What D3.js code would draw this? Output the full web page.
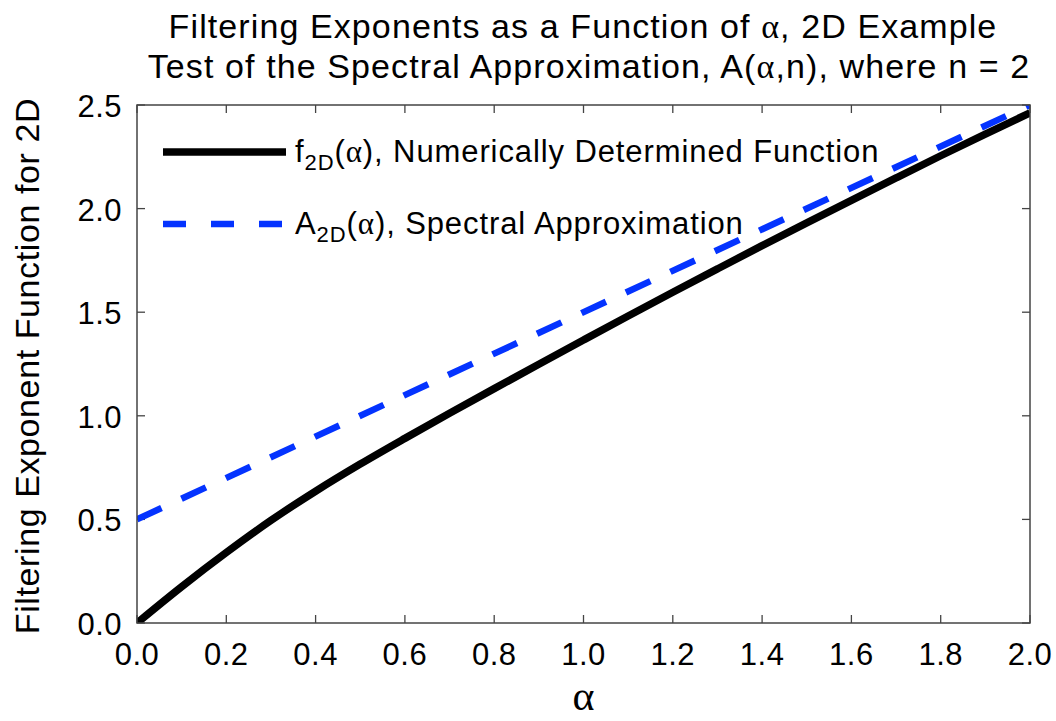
<!DOCTYPE html>
<html lang="en">
  <head>
    <meta charset="UTF-8" />
    <title>Filtering Exponents as a Function of alpha</title>
    <script src="https://d3js.org/d3.v7.min.js"></script>
    <style>
      body {
        margin: 0;
        background: #fff;
      }
      svg text {
        font-family: "Liberation Sans", Arial, Helvetica, sans-serif;
        fill: #000;
      }
      .greek {
        font-family: "Liberation Serif", "DejaVu Serif", serif;
      }
    </style>
  </head>
  <body>
    <div id="chart"></div>
    <script>
      // data
      const alphaNum = [0, 0.1, 0.2, 0.3, 0.4, 0.5, 0.6, 0.7, 0.8, 0.9, 1.0,
        1.1, 1.2, 1.3, 1.4, 1.5, 1.6, 1.7, 1.8, 1.9, 2.0];
      const fNum = [0, 0.175, 0.34, 0.495, 0.636, 0.767, 0.891, 1.012, 1.131, 1.249, 1.366,
        1.482, 1.596, 1.709, 1.821, 1.931, 2.04, 2.148, 2.255, 2.36, 2.462];
      const alphaApprox = [0, 2.0];
      const aApprox = [0.5, 2.5];
      const xTicks = [0, 0.2, 0.4, 0.6, 0.8, 1.0, 1.2, 1.4, 1.6, 1.8, 2.0];
      const yTicks = [0, 0.5, 1.0, 1.5, 2.0, 2.5];

      const W = 1056, H = 721;
      const margin = { top: 105, right: 26, bottom: 98, left: 137 };
      const width = W - margin.left - margin.right,
        height = H - margin.top - margin.bottom;

      const svg = d3.select("#chart").append("svg")
        .attr("width", W).attr("height", H);

      const g = svg.append("g")
        .attr("transform", `translate(${margin.left},${margin.top})`);

      const x = d3.scaleLinear().domain([0, 2]).range([0, width]);
      const y = d3.scaleLinear().domain([0, 2.5]).range([height, 0]);

      // title
      const title = svg.append("text")
        .attr("text-anchor", "middle")
        .attr("font-size", 34)
        .attr("letter-spacing", 1.1);
      const t1 = title.append("tspan").attr("x", 583).attr("y", 38);
      t1.append("tspan").text("Filtering Exponents as a Function of ");
      t1.append("tspan").attr("class", "greek").text("α");
      t1.append("tspan").text(", 2D Example");
      const t2 = title.append("tspan").attr("x", 589).attr("y", 78);
      t2.append("tspan").text("Test of the Spectral Approximation, A(");
      t2.append("tspan").attr("class", "greek").text("α");
      t2.append("tspan").text(",n), where n = 2");

      // clip for the curves
      g.append("clipPath").attr("id", "plotClip")
        .append("rect").attr("width", width).attr("height", height);

      // ticks, inward on all four sides
      const tickLen = 8;
      const axisColor = "#444";
      g.selectAll(".xtick-b").data(xTicks).join("line")
        .attr("x1", d => x(d)).attr("x2", d => x(d))
        .attr("y1", height).attr("y2", height - tickLen)
        .attr("stroke", axisColor).attr("stroke-width", 1.3);
      g.selectAll(".xtick-t").data(xTicks).join("line")
        .attr("x1", d => x(d)).attr("x2", d => x(d))
        .attr("y1", 0).attr("y2", tickLen)
        .attr("stroke", axisColor).attr("stroke-width", 1.3);
      g.selectAll(".ytick-l").data(yTicks).join("line")
        .attr("x1", 0).attr("x2", tickLen)
        .attr("y1", d => y(d)).attr("y2", d => y(d))
        .attr("stroke", axisColor).attr("stroke-width", 1.3);
      g.selectAll(".ytick-r").data(yTicks).join("line")
        .attr("x1", width).attr("x2", width - tickLen)
        .attr("y1", d => y(d)).attr("y2", d => y(d))
        .attr("stroke", axisColor).attr("stroke-width", 1.3);

      // tick labels
      g.selectAll(".xlab").data(xTicks).join("text")
        .attr("x", d => x(d)).attr("y", height + 42)
        .attr("text-anchor", "middle").attr("font-size", 31)
        .attr("letter-spacing", 0.5)
        .text(d => d.toFixed(1));
      g.selectAll(".ylab").data(yTicks).join("text")
        .attr("x", -15).attr("y", d => y(d) + 12)
        .attr("text-anchor", "end").attr("font-size", 31)
        .attr("letter-spacing", 0.5)
        .text(d => d.toFixed(1));

      // axis titles
      svg.append("text")
        .attr("transform", `translate(39,${margin.top + height / 2 + 2}) rotate(-90)`)
        .attr("text-anchor", "middle").attr("font-size", 34)
        .attr("letter-spacing", 0.6)
        .text("Filtering Exponent Function for 2D");
      svg.append("text").attr("class", "greek")
        .attr("x", margin.left + width / 2).attr("y", 710)
        .attr("text-anchor", "middle").attr("font-size", 42)
        .text("α");

      // curves
      const line = d3.line()
        .x(d => x(d[0])).y(d => y(d[1]))
        .curve(d3.curveMonotoneX);

      const curves = g.append("g").attr("clip-path", "url(#plotClip)");
      curves.append("path")
        .datum(d3.zip(alphaApprox, aApprox))
        .attr("d", line)
        .attr("fill", "none").attr("stroke", "#0433ff")
        .attr("stroke-width", 6.5).attr("stroke-dasharray", "27,22");
      curves.append("path")
        .datum(d3.zip(alphaNum, fNum))
        .attr("d", line)
        .attr("fill", "none").attr("stroke", "#000")
        .attr("stroke-width", 7.5);

      // frame
      g.append("rect").attr("width", width).attr("height", height)
        .attr("fill", "none").attr("stroke", axisColor).attr("stroke-width", 1.5);

      // legend
      const legend = svg.append("g");
      const legendItems = [
        { base: "f", rest: "), Numerically Determined Function", color: "#000", dash: null, yLine: 152 },
        { base: "A", rest: "), Spectral Approximation", color: "#0433ff", dash: "23,25", yLine: 224 }
      ];
      legendItems.forEach(item => {
        legend.append("line")
          .attr("x1", 163).attr("x2", 286)
          .attr("y1", item.yLine).attr("y2", item.yLine)
          .attr("stroke", item.color)
          .attr("stroke-width", item.dash ? 6.5 : 7.5)
          .attr("stroke-dasharray", item.dash);
        const t = legend.append("text")
          .attr("x", 295).attr("y", item.yLine + 10)
          .attr("font-size", 31)
          .attr("letter-spacing", 0.9);
        t.append("tspan").text(item.base);
        t.append("tspan").attr("font-size", 22).attr("dy", 8).text("2D");
        t.append("tspan").attr("dy", -8).text("(");
        t.append("tspan").attr("class", "greek").text("α");
        t.append("tspan").text(item.rest);
      });
    </script>
  </body>
</html>
